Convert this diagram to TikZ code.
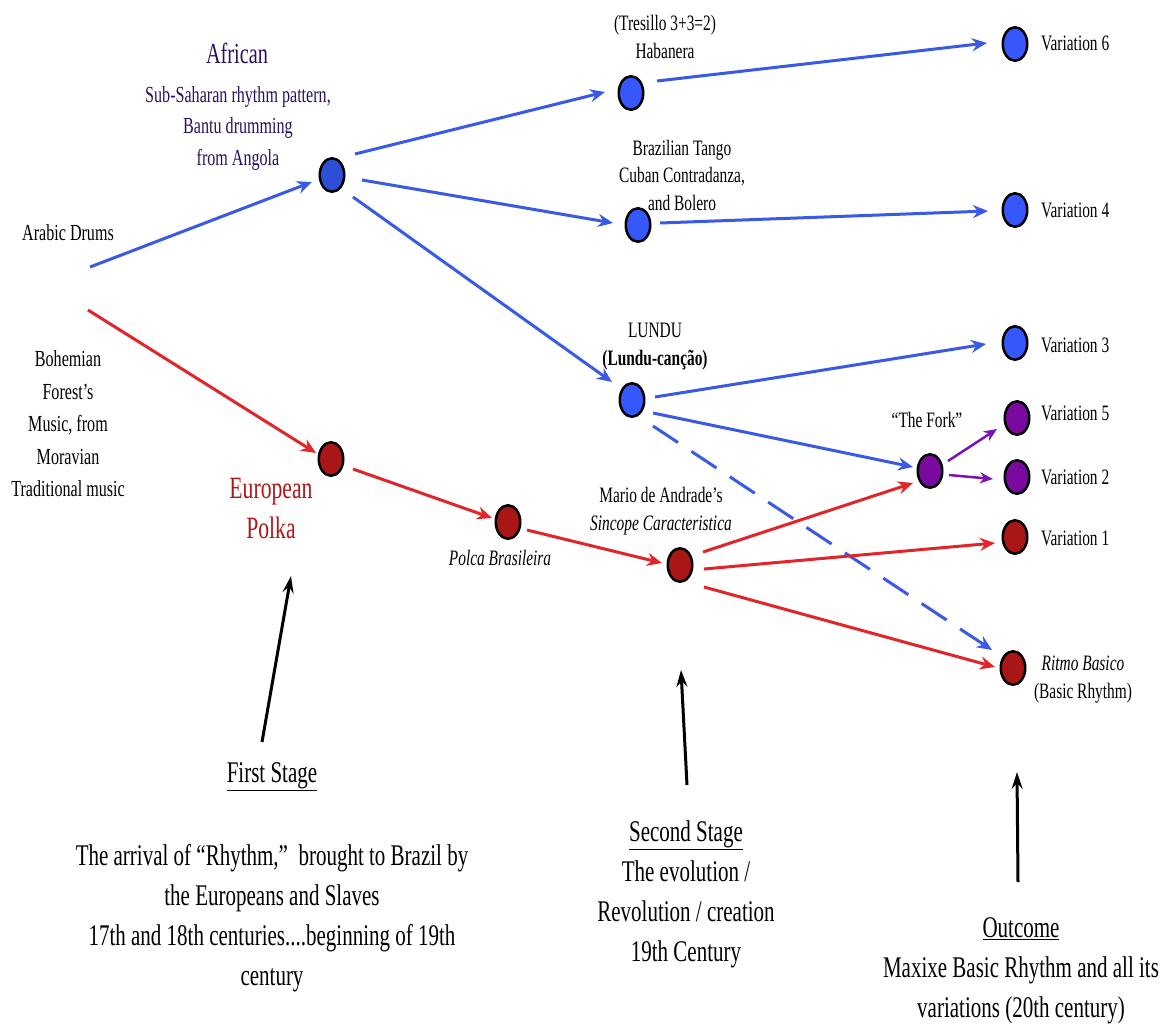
\documentclass[tikz,border=0pt]{standalone}
\usepackage{fontspec}
\setmainfont{Liberation Serif}[FakeStretch=0.70]
\usetikzlibrary{arrows.meta,calc,shapes.geometric}
\definecolor{lineblue}{HTML}{3A5AE6}
\definecolor{nodeblue}{HTML}{3557FB}
\definecolor{afrblue}{HTML}{2C4FD6}
\definecolor{linered}{HTML}{E0262A}
\definecolor{nodered}{HTML}{AA1515}
\definecolor{nodepurple}{HTML}{7A0A9E}
\definecolor{linepurple}{HTML}{7D12B4}
\definecolor{afrtext}{HTML}{2A1060}
\definecolor{eurtext}{HTML}{B01818}
\tikzset{
  dot/.style={ellipse, draw=black, line width=2.5pt, minimum width=24.5pt, minimum height=33.5pt, inner sep=0pt},
  bdot/.style={dot, fill=nodeblue},
  rdot/.style={dot, fill=nodered},
  pdot/.style={dot, fill=nodepurple},
  conn/.style={line width=3pt, -{Stealth[length=15pt,width=13pt,inset=5pt]}},
  bl/.style={conn, draw=lineblue},
  rl/.style={conn, draw=linered},
  pl/.style={line width=2.5pt, draw=linepurple, -{Stealth[length=13pt,width=11pt,inset=4pt]}},
  kl/.style={line width=3pt, draw=black, -{Stealth[length=17pt,width=11pt,inset=6pt]}},
  lbl/.style={font=\fontsize{22}{28}\selectfont, inner sep=0pt, align=center},
  big/.style={font=\fontsize{30}{40}\selectfont, inner sep=0pt, align=center},
}
\begin{document}
\begin{tikzpicture}[x=1pt,y=-1pt]
\fill[white] (0,0) rectangle (1162,1029);
\useasboundingbox (0,0) rectangle (1162,1029);

% nodes
\node[dot, fill=afrblue] (afr) at (332,175) {};
\node[bdot] (hab) at (631,93) {};
\node[bdot] (tango) at (638,225) {};
\node[bdot] (lundu) at (632,400) {};
\node[bdot] (var6) at (1015,44) {};
\node[bdot] (var4) at (1015,210) {};
\node[bdot] (var3) at (1015,343) {};
\node[pdot] (var5) at (1017,418) {};
\node[pdot] (var2) at (1017,477) {};
\node[rdot] (var1) at (1015,537) {};
\node[rdot] (ritmo) at (1013,668) {};
\node[pdot] (fork) at (930,471) {};
\node[rdot] (euro) at (331,459) {};
\node[rdot] (polca) at (508,522) {};
\node[rdot] (sinc) at (680,565) {};

% labels
\node[lbl, font=\fontsize{29}{36}\selectfont, text=afrtext] (afrtitle) at (237,53) {African};
\node[lbl, font=\fontsize{23}{31.5}\selectfont, text=afrtext] (afrdesc) at (238,128) {Sub-Saharan rhythm pattern,\\Bantu drumming\\from Angola};
\node[lbl, font=\fontsize{23}{30}\selectfont] (arab) at (68,233) {Arabic Drums};
\node[lbl, font=\fontsize{23}{32.5}\selectfont] (boh) at (68,424) {Bohemian\\Forest’s\\Music, from\\Moravian\\Traditional music};
\node[lbl, font=\fontsize{31}{40}\selectfont, text=eurtext] (eurtext) at (271,508) {European\\Polka};
\node[lbl, font=\fontsize{22}{28}\selectfont\itshape] (polcat) at (500,558) {Polca Brasileira};
\node[lbl] (sinct) at (661,511) {Mario de Andrade’s\\\textit{Sincope Caracteristica}};
\node[lbl] (habt) at (665,37) {(Tresillo 3+3=2)\\Habanera};
\node[lbl, font=\fontsize{22}{27.5}\selectfont] (tangot) at (682,175) {Brazilian Tango\\Cuban Contradanza,\\and Bolero};
\node[lbl] (lundut) at (655,347) {LUNDU\\\textbf{(Lundu-canção)}};
\node[lbl] (forkt) at (927,420) {“The Fork”};
\node[lbl, anchor=west] (v6t) at (1041,43) {Variation 6};
\node[lbl, anchor=west] (v4t) at (1041,210) {Variation 4};
\node[lbl, anchor=west] (v3t) at (1041,345) {Variation 3};
\node[lbl, anchor=west] (v5t) at (1041,413) {Variation 5};
\node[lbl, anchor=west] (v2t) at (1041,477) {Variation 2};
\node[lbl, anchor=west] (v1t) at (1041,538) {Variation 1};
\node[lbl] (ritmot) at (1083,680) {\textit{Ritmo Basico}\\(Basic Rhythm)};

\node[big] (first) at (272,777) {\underline{First Stage}};
\node[big] (firstd) at (272,918) {The arrival of “Rhythm,”\ \ brought to Brazil by\\the Europeans and Slaves\\17th and 18th centuries....beginning of 19th\\century};
\node[big] (second) at (686,894) {\underline{Second Stage}\\The evolution /\\Revolution / creation\\19th Century};
\node[big] (outcome) at (1021,971) {\underline{Outcome}\\Maxixe Basic Rhythm and all its\\variations (20th century)};

% free ends
\coordinate (arabstart) at (90,267);
\coordinate (bohstart) at (88,310);
\coordinate (s1a) at (262,742);
\coordinate (s1b) at (291,576);
\coordinate (s2a) at (687,785);
\coordinate (s2b) at (681,670);
\coordinate (s3a) at (1018,882);
\coordinate (s3b) at (1017,772);

% connectors
\draw[bl] (arabstart) -- ($(afr)+(-20,7)$);
\draw[rl] (bohstart) -- ($(euro)+(-15,-6)$);
\draw[bl] ($(afr)+(23,-21)$) -- ($(hab)+(-26,-1)$);
\draw[bl] ($(afr)+(30,5)$) -- ($(tango)+(-25,-2)$);
\draw[bl] ($(afr)+(21,22)$) -- ($(lundu)+(-20,-18)$);
\draw[bl] ($(hab)+(26,-12)$) -- ($(var6)+(-28,-1)$);
\draw[bl] ($(tango)+(22,-2)$) -- ($(var4)+(-27,1)$);
\draw[bl] ($(lundu)+(23,-3)$) -- ($(var3)+(-29,1)$);
\draw[bl] ($(lundu)+(21,13)$) -- ($(fork)+(-17,-4)$);
\draw[bl, dash pattern=on 30pt off 16pt] ($(lundu)+(21,26)$) -- ($(ritmo)+(-21,-18)$);
\draw[rl] ($(euro)+(22,10)$) -- ($(polca)+(-16,-4)$);
\draw[rl] ($(polca)+(19,8)$) -- ($(sinc)+(-18,-2)$);
\draw[rl] ($(sinc)+(23,-13)$) -- ($(fork)+(-17,12)$);
\draw[rl] ($(sinc)+(24,4)$) -- ($(var1)+(-20,6)$);
\draw[rl] ($(sinc)+(24,22)$) -- ($(ritmo)+(-18,-1)$);
\draw[pl] ($(fork)+(18,-10)$) -- ($(var5)+(-20,11)$);
\draw[pl] ($(fork)+(19,4)$) -- ($(var2)+(-24,2)$);
\draw[kl] (s1a) -- (s1b);
\draw[kl] (s2a) -- (s2b);
\draw[kl] (s3a) -- (s3b);
\end{tikzpicture}
\end{document}
